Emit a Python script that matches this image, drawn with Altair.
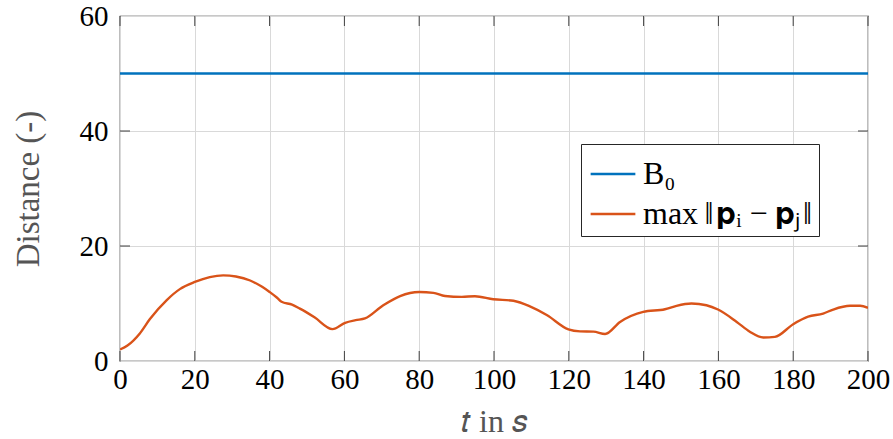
import altair as alt
import pandas as pd

# ---- data ----
t_vals = [0, 2, 5.3, 8, 12.5, 16, 20, 24, 27.6, 31, 34.8, 38, 40, 42, 43.2, 46, 48.1, 52, 56.8,
          60.2, 63, 65.5, 70.4, 74.9, 80, 83.8, 86.9, 91.4, 94.9, 99.8, 105.2, 109.6, 114.1,
          119.9, 123, 126.6, 129.7, 133.7, 139.9, 145.7, 148.8, 152.8, 156.8, 159.9, 164.9,
          168.4, 172, 175.1, 180, 184, 188, 190.7, 195.2, 197.9, 200]
d_vals = [2.0, 2.7, 4.8, 7.3, 10.6, 12.5, 13.75, 14.6, 14.9, 14.7, 14.0, 12.9, 12.0, 11.0, 10.3, 9.8,
          9.1, 7.6, 5.55, 6.65, 7.1, 7.4, 9.7, 11.3, 12.0, 11.85, 11.3, 11.15, 11.27, 10.75,
          10.47, 9.5, 8.0, 5.5, 5.15, 5.1, 4.7, 6.8, 8.55, 9.0, 9.6, 10.0, 9.7, 8.95, 6.8, 5.1,
          4.1, 4.2, 6.4, 7.7, 8.25, 8.95, 9.6, 9.6, 9.25]
b0_t = [0, 200]
b0_vals = [50, 50]

series_names = ["B₀", "max\u2009‖\u200a𝐩ᵢ − 𝐩ⱼ\u200a‖"]
series_colors = ["#0072BD", "#D95319"]
x_ticks = [0, 20, 40, 60, 80, 100, 120, 140, 160, 180, 200]
y_ticks = [0, 20, 40, 60]

df = pd.concat([
    pd.DataFrame({"t": b0_t, "d": b0_vals, "series": series_names[0], "order": [0, 1]}),
    pd.DataFrame({"t": t_vals, "d": d_vals, "series": series_names[1], "order": list(range(len(t_vals)))}),
])

FONT = "Liberation Serif"
TOP = 16
W, H = 748, 345

x_scale = alt.Scale(domain=[0, 200], nice=False, zero=False)
y_scale = alt.Scale(domain=[0, 60], nice=False)

lines = alt.Chart(df).mark_line(strokeWidth=2.4, clip=True, interpolate="monotone").encode(
    x=alt.X("t:Q", scale=x_scale,
            axis=alt.Axis(values=x_ticks, title="𝑡 in 𝑠", grid=True, gridColor="#d9d9d9",
                          gridWidth=1, tickSize=0, domain=False, labelFontSize=29, labelFont=FONT,
                          labelColor="#000000", labelPadding=4, titleFont=FONT, titleFontSize=32,
                          titleFontWeight="normal", titleColor="#555555", titlePadding=12,
                          labelFlush=False)),
    y=alt.Y("d:Q", scale=y_scale,
            axis=alt.Axis(values=y_ticks, title="Distance (-)", grid=True, gridColor="#d9d9d9",
                          gridWidth=1, tickSize=0, domain=False, labelFontSize=29, labelFont=FONT,
                          labelColor="#000000", labelPadding=12, titleFont=FONT, titleFontSize=33,
                          titleFontWeight="normal", titleColor="#555555", titlePadding=34,
                          labelFlush=False)),
    color=alt.Color("series:N",
                    scale=alt.Scale(domain=series_names, range=series_colors),
                    legend=alt.Legend(title=None, orient="none", legendX=461, legendY=128,
                                      labelFont=FONT, labelFontSize=32, labelColor="#000000",
                                      symbolType="stroke", symbolSize=2000, symbolStrokeWidth=2.5,
                                      fillColor="#ffffff", strokeColor="#262626", padding=6,
                                      rowPadding=0, labelLimit=400, symbolOffset=2,
                                      labelOffset=6)),
    order="order:Q",
)

tick_df = pd.DataFrame({"t": x_ticks})
ytick_df = pd.DataFrame({"d": y_ticks[1:-1]})

xticks_bottom = alt.Chart(tick_df).mark_rule(color="#404040", strokeWidth=1).encode(
    x=alt.X("t:Q", scale=x_scale), y=alt.value(H), y2=alt.value(H - 10))
xticks_top = alt.Chart(tick_df).mark_rule(color="#404040", strokeWidth=1).encode(
    x=alt.X("t:Q", scale=x_scale), y=alt.value(0), y2=alt.value(10))
yticks_left = alt.Chart(ytick_df).mark_rule(color="#404040", strokeWidth=1).encode(
    y=alt.Y("d:Q", scale=y_scale), x=alt.value(0), x2=alt.value(10))
yticks_right = alt.Chart(ytick_df).mark_rule(color="#404040", strokeWidth=1).encode(
    y=alt.Y("d:Q", scale=y_scale), x=alt.value(W), x2=alt.value(W - 10))

chart = alt.layer(xticks_bottom, xticks_top, yticks_left, yticks_right, lines).properties(
    width=W, height=H,
    autosize=alt.AutoSizeParams(type="none"),
    padding={"left": 120, "top": TOP, "right": 25, "bottom": 439 - TOP - H},
    background="#ffffff",
).configure_view(stroke="#262626", strokeWidth=1.2).configure_legend(cornerRadius=0)

chart.save("out.html", embed_options={"renderer": "svg", "actions": False})
